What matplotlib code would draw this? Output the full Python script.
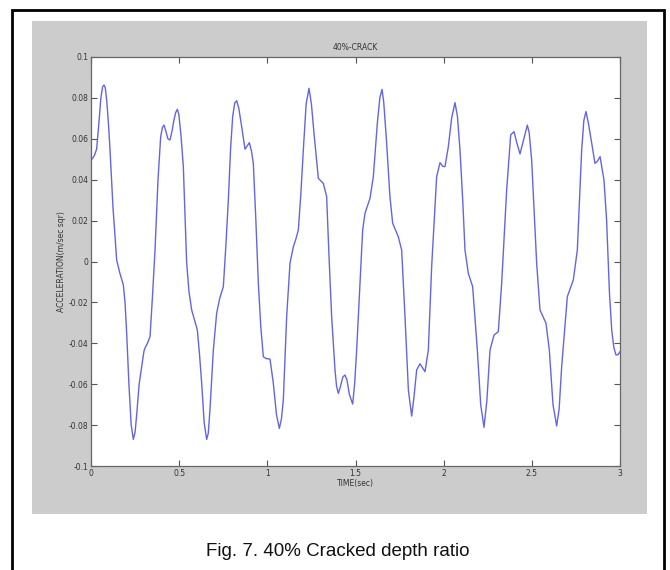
import matplotlib
matplotlib.use("Agg")
import matplotlib.pyplot as plt
from matplotlib.patches import Rectangle

title = "40%-CRACK"
xlabel = "TIME(sec)"
ylabel = "ACCELERATION(m/sec sqr)"
caption = "Fig. 7. 40% Cracked depth ratio"

time_s = [0.0, 0.0095, 0.02, 0.032, 0.045, 0.056, 0.066, 0.0737, 0.081, 0.09, 0.1, 0.1078, 0.125, 0.1456,
          0.163, 0.1834, 0.193, 0.2023, 0.215, 0.228, 0.2401, 0.25, 0.26, 0.273, 0.2873, 0.3, 0.3062, 0.32,
          0.3346, 0.348, 0.363, 0.38, 0.3951, 0.405, 0.414, 0.424, 0.436, 0.448, 0.46, 0.47, 0.48, 0.4896,
          0.498, 0.51, 0.5236, 0.5425, 0.556, 0.5709, 0.588, 0.603, 0.615, 0.6276, 0.642, 0.656, 0.665, 0.675,
          0.6938, 0.7127, 0.73, 0.7505, 0.765, 0.7788, 0.7915, 0.8034, 0.815, 0.8261, 0.838, 0.8545, 0.8734,
          0.886, 0.8979, 0.91, 0.9206, 0.935, 0.949, 0.963, 0.9773, 0.995, 1.0151, 1.034, 1.052, 1.068, 1.08,
          1.0907, 1.1096, 1.1285, 1.1474, 1.162, 1.1758, 1.19, 1.2041, 1.22, 1.2363, 1.25, 1.2646, 1.2892,
          1.3175, 1.3364, 1.35, 1.3648, 1.3837, 1.3926, 1.4026, 1.415, 1.428, 1.4404, 1.452, 1.465, 1.4839,
          1.495, 1.5066, 1.5255, 1.5406, 1.5539, 1.5822, 1.6011, 1.6238, 1.638, 1.6503, 1.66, 1.6767, 1.695,
          1.7108, 1.7429, 1.7618, 1.7807, 1.80, 1.8185, 1.832, 1.8469, 1.8658, 1.88, 1.8941, 1.913, 1.9319,
          1.9603, 1.9792, 1.995, 2.0075, 2.0264, 2.045, 2.0642, 2.078, 2.0926, 2.108, 2.1209, 2.1398, 2.1644,
          2.1909, 2.21, 2.2287, 2.245, 2.2627, 2.2854, 2.31, 2.3289, 2.3573, 2.38, 2.3989, 2.415, 2.4329,
          2.455, 2.4745, 2.485, 2.499, 2.5274, 2.5463, 2.5803, 2.5992, 2.62, 2.6408, 2.655, 2.6692, 2.7013,
          2.7353, 2.758, 2.7826, 2.795, 2.8071, 2.82, 2.8336, 2.8581, 2.872, 2.887, 2.909, 2.924, 2.94,
          2.953, 2.965, 2.977, 2.99, 3.0]
accel = [0.0495, 0.0505, 0.052, 0.055, 0.068, 0.080, 0.0855, 0.0863, 0.085, 0.078, 0.066, 0.0545, 0.026, 0.0007,
         -0.0055, -0.0115, -0.020, -0.035, -0.060, -0.080, -0.087, -0.0835, -0.074, -0.060, -0.0514, -0.0440, -0.0423, -0.040,
         -0.0368, -0.018, 0.0056, 0.040, 0.061, 0.0655, 0.0667, 0.064, 0.0600, 0.0594, 0.064, 0.069, 0.0728, 0.0744,
         0.072, 0.062, 0.0464, -0.0007, -0.015, -0.0237, -0.029, -0.0335, -0.045, -0.0594, -0.079, -0.087, -0.084, -0.072,
         -0.0433, -0.0252, -0.018, -0.0123, 0.008, 0.030, 0.055, 0.0708, 0.0775, 0.0786, 0.075, 0.0659, 0.0549,
         0.0565, 0.0581, 0.054, 0.048, 0.020, -0.0107, -0.032, -0.0466, -0.0475, -0.0477, -0.0596, -0.075, -0.0816, -0.077,
         -0.0677, -0.027, -0.0009, 0.0072, 0.011, 0.0154, 0.033, 0.0545, 0.077, 0.0847, 0.077, 0.0627, 0.0407,
         0.0382, 0.0317, 0.002, -0.027, -0.053, -0.061, -0.0645, -0.061, -0.0565, -0.0555, -0.058, -0.065, -0.0697,
         -0.060, -0.0433, -0.0107, 0.0154, 0.0236, 0.0309, 0.0415, 0.0676, 0.080, 0.0842, 0.078, 0.0578, 0.032,
         0.0187, 0.0121, 0.0056, -0.027, -0.063, -0.0756, -0.066, -0.053, -0.050, -0.052, -0.0539, -0.0433, -0.0025,
         0.0415, 0.0483, 0.0465, 0.0464, 0.0561, 0.070, 0.0777, 0.071, 0.0545, 0.030, 0.0056, -0.0058, -0.0123,
         -0.0433, -0.070, -0.0811, -0.068, -0.0433, -0.036, -0.0343, -0.0107, 0.035, 0.0619, 0.0635, 0.058, 0.0526,
         0.060, 0.0667, 0.063, 0.0496, -0.0009, -0.0237, -0.0302, -0.0433, -0.070, -0.0804, -0.072, -0.0514, -0.0172,
         -0.009, 0.0056, 0.0545, 0.069, 0.0733, 0.068, 0.061, 0.048, 0.049, 0.0513, 0.0399, 0.0203, -0.015,
         -0.0335, -0.042, -0.0457, -0.0455, -0.0441]

xticks = [0, 0.5, 1, 1.5, 2, 2.5, 3]
xticklabels = ["0", "0.5", "1", "1.5", "2", "2.5", "3"]
yticks = [-0.1, -0.08, -0.06, -0.04, -0.02, 0, 0.02, 0.04, 0.06, 0.08, 0.1]
yticklabels = ["-0.1", "-0.08", "-0.06", "-0.04", "-0.02", "0", "0.02", "0.04", "0.06", "0.08", "0.1"]

W, H = 670, 570
fig = plt.figure(figsize=(W / 100, H / 100), dpi=100)
fig.patch.set_facecolor("white")

def fx(px):
    return px / W

def fy(py):
    return 1 - py / H

# outer black frame
fig.patches.append(Rectangle((fx(12), fy(572)), fx(664) - fx(12), fy(10) - fy(572),
                             transform=fig.transFigure, fill=False, edgecolor="black",
                             linewidth=2, zorder=-5))
# gray figure region
fig.patches.append(Rectangle((fx(32), fy(514)), fx(647) - fx(32), fy(21) - fy(514),
                             transform=fig.transFigure, facecolor="#cccccc", edgecolor="none",
                             zorder=-5))

ax = fig.add_axes([fx(91), fy(466), fx(620) - fx(91), fy(57) - fy(466)])
ax.set_zorder(1)
ax.set_facecolor("white")
ax.plot(time_s, accel, color="#6464e6", linewidth=1.0, solid_joinstyle="round")
ax.set_xlim(0, 3)
ax.set_ylim(-0.1, 0.1)
ax.set_xticks(xticks)
ax.set_xticklabels(xticklabels)
ax.set_yticks(yticks)
ax.set_yticklabels(yticklabels)
ax.tick_params(direction="in", length=4, width=0.8, top=True, right=True,
               labelsize=5.5, colors="#555555", labelcolor="#333333", pad=2)
for s in ax.spines.values():
    s.set_color("#666666")
    s.set_linewidth(0.9)

ax.set_title(title, fontsize=5.5, color="#333333", pad=5)
ax.set_xlabel(xlabel, fontsize=5.5, color="#333333", labelpad=1)
ax.set_ylabel(ylabel, fontsize=5.5, color="#333333", labelpad=1.5)

fig.text(fx(338), fy(552), caption, ha="center", va="center", fontsize=13.5,
         family="Liberation Sans", color="#111111")

fig.savefig("out.png", dpi=100)
